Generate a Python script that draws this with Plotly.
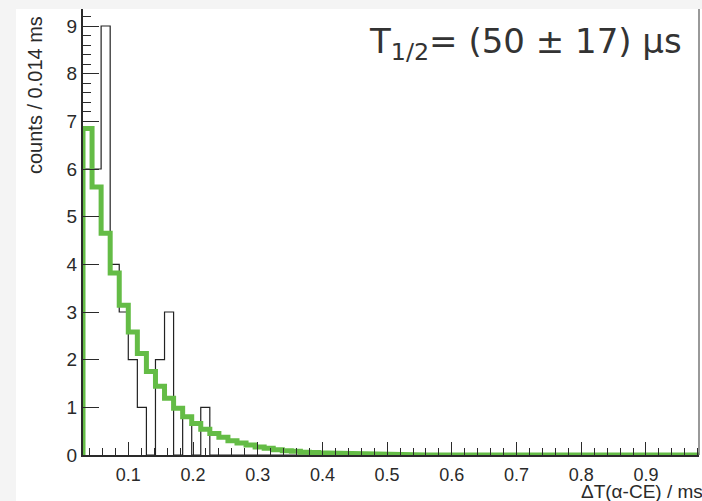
import plotly.graph_objects as go

# ---- data ----
bin_width = 0.014          # ms
x_start = 0.03             # ms, lower edge of first bin
x_end = 0.982              # ms, upper edge of the axis
n_bins = 68

# measured counts per bin (black histogram)
data_counts = [6, 6, 9, 4, 3, 2, 1, 0, 2, 3, 0, 0.8, 0, 1,
               0, 0, 0, 0, 0, 0, 0, 0, 0, 0, 0, 0, 0, 0, 0, 0,
               0, 0, 0, 0, 0, 0, 0, 0, 0, 0, 0, 0, 0, 0, 0, 0,
               0, 0, 0, 0, 0, 0, 0, 0, 0, 0, 0, 0, 0, 0, 0, 0,
               0, 0, 0, 0, 0, 0]

# fitted exponential decay (green histogram), read per bin
fit_values = [6.85, 5.62, 4.65, 3.82, 3.14, 2.58, 2.13, 1.75, 1.44, 1.19,
              0.98, 0.80, 0.66, 0.54, 0.45, 0.37, 0.30, 0.25, 0.21, 0.17,
              0.14, 0.11, 0.09, 0.08, 0.06, 0.05, 0.04, 0.035, 0.03, 0.02,
              0.02, 0.015, 0.01, 0.01, 0.01, 0.01, 0.0, 0.0, 0.0, 0.0,
              0.0, 0.0, 0.0, 0.0, 0.0, 0.0, 0.0, 0.0, 0.0, 0.0,
              0.0, 0.0, 0.0, 0.0, 0.0, 0.0, 0.0, 0.0, 0.0, 0.0,
              0.0, 0.0, 0.0, 0.0, 0.0, 0.0, 0.0, 0.0]

x_tick_vals = [0.1, 0.2, 0.3, 0.4, 0.5, 0.6, 0.7, 0.8, 0.9]
x_tick_text = ["0.1", "0.2", "0.3", "0.4", "0.5", "0.6", "0.7", "0.8", "0.9"]
y_tick_vals = [0, 1, 2, 3, 4, 5, 6, 7, 8, 9]
y_minor_vals = [7.2, 7.4, 7.6, 7.8, 8.2, 8.4, 8.6, 8.8, 9.2]
y_range = [0, 9.357]

x_title = "ΔT(α-CE) / ms"
y_title = "counts / 0.014 ms"
result_text = "T<sub>1/2</sub>= (50 ± 17) µs"

# ---- build step outlines ----
edges = [x_start + i * bin_width for i in range(n_bins + 1)]


def step_xy(values):
    xs, ys = [edges[0]], [0]
    for i, v in enumerate(values):
        xs += [edges[i], edges[i + 1]]
        ys += [v, v]
    xs.append(edges[len(values)])
    ys.append(0)
    return xs, ys


dx, dy = step_xy(data_counts)
fx, fy = step_xy(fit_values)

fig = go.Figure()
fig.add_trace(go.Scatter(x=dx, y=dy, mode="lines",
                         line=dict(color="#222222", width=1.2),
                         hoverinfo="skip", showlegend=False))
fig.add_trace(go.Scatter(x=fx, y=fy, mode="lines",
                         line=dict(color="#64bc46", width=5),
                         hoverinfo="skip", showlegend=False))
# empty trace so the minor-tick overlay axis is drawn
fig.add_trace(go.Scatter(x=[x_start], y=[0], yaxis="y2", mode="lines",
                         line=dict(width=0), opacity=0,
                         hoverinfo="skip", showlegend=False))

# plot-area geometry (pixels)
L, R, T, B = 83, 3, 9, 46
W, H = 702 - L - R, 501 - T - B


def px(xp):
    return (xp - L) / W


def py(yp):
    return (H + T - yp) / H


axis_font = dict(family="Liberation Sans, Arial, sans-serif", size=18, color="#2a2a2a")
tick_col = "#2a2a2a"

fig.update_layout(
    width=702, height=501,
    margin=dict(l=L, r=R, t=T, b=B, pad=0),
    paper_bgcolor="white", plot_bgcolor="white",
    showlegend=False,
    xaxis=dict(range=[x_start, x_end], showgrid=False, zeroline=False,
               showline=True, linecolor=tick_col, linewidth=2,
               ticks="inside", ticklen=13, tickwidth=1.4, tickcolor=tick_col,
               tickmode="array", tickvals=x_tick_vals, ticktext=x_tick_text,
               tickfont=axis_font, ticklabelstandoff=2,
               minor=dict(ticks="inside", ticklen=7, tickwidth=1.2,
                          tickcolor=tick_col, dtick=0.02, tick0=0,
                          showgrid=False)),
    yaxis=dict(range=y_range, showgrid=False, zeroline=False,
               showline=True, linecolor=tick_col, linewidth=2,
               ticks="inside", ticklen=16, tickwidth=1.4, tickcolor=tick_col,
               tickmode="array", tickvals=y_tick_vals,
               tickfont=dict(family="Liberation Sans, Arial, sans-serif", size=19, color="#2a2a2a")),
    yaxis2=dict(range=y_range, overlaying="y", side="left", anchor="x",
                showgrid=False, zeroline=False, showline=False,
                ticks="inside", ticklen=8, tickwidth=1.2, tickcolor=tick_col,
                tickmode="array", tickvals=y_minor_vals,
                showticklabels=False),
)

# right frame line
fig.add_shape(type="line", xref="paper", yref="paper", x0=1, x1=1, y0=0, y1=1,
              line=dict(color="#555555", width=1.2))

# grey screenshot border strips
grey = "#f4f4f4"
fig.add_shape(type="rect", xref="paper", yref="paper", layer="above",
              x0=px(0), x1=px(16), y0=py(501), y1=py(0),
              fillcolor=grey, line=dict(width=0))
fig.add_shape(type="rect", xref="paper", yref="paper", layer="above",
              x0=px(0), x1=px(702), y0=py(9), y1=py(0),
              fillcolor=grey, line=dict(width=0))

fig.add_annotation(text=x_title, xref="paper", yref="paper",
                   x=px(705), y=py(492), xanchor="right", yanchor="middle",
                   showarrow=False,
                   font=dict(family="Liberation Sans, Arial, sans-serif", size=19, color="#2a2a2a"))
fig.add_annotation(text=y_title, xref="paper", yref="paper", textangle=-90,
                   x=px(35), y=py(14), xanchor="center", yanchor="top",
                   showarrow=False,
                   font=dict(family="Liberation Sans, Arial, sans-serif", size=20, color="#2a2a2a"))
fig.add_annotation(text=result_text, xref="paper", yref="paper",
                   x=px(684), y=py(19), xanchor="right", yanchor="top",
                   showarrow=False,
                   font=dict(family="DejaVu Sans, sans-serif", size=34, color="#333333"))

fig.write_html("out.html")
